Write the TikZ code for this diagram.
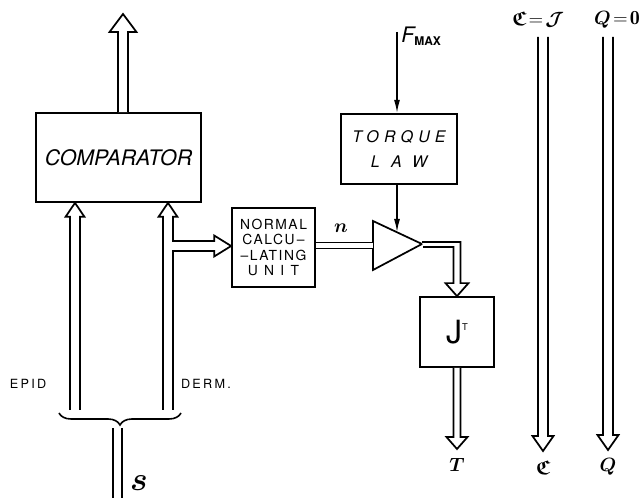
\documentclass[tikz,border=0pt]{standalone}
\usepackage{amsmath,amssymb,bm}
\usepackage{fontspec}
\setsansfont{TeX Gyre Heros}
\usetikzlibrary{calc,arrows.meta,decorations.pathreplacing}

\def\shaftw{3.75pt}
\def\headw{7.9pt}
\def\headlen{10.5pt}

\tikzset{
  box/.style={draw,line width=1.3pt,inner sep=0pt,align=center},
  hollow/.style={draw,line width=1.3pt,fill=white,line join=miter},
  fat size/.code n args={3}{\def\shaftw{#1}\def\headw{#2}\def\headlen{#3}},
  fat/.style={hollow,to path={let \p1=($(\tikztotarget)!\headlen!(\tikztostart)$) in
      ($(\tikztostart)!\shaftw!90:(\tikztotarget)$) -- ($(\p1)!\shaftw!90:(\tikztotarget)$)
      -- ($(\p1)!\headw!90:(\tikztotarget)$) -- (\tikztotarget)
      -- ($(\p1)!\headw!-90:(\tikztotarget)$) -- ($(\p1)!\shaftw!-90:(\tikztotarget)$)
      -- ($(\tikztostart)!\shaftw!-90:(\tikztotarget)$)}},
  lbl/.style={inner sep=0pt},
  sig/.style={inner sep=0pt,font=\fontsize{15}{15}\selectfont}
}

\begin{document}
\begin{tikzpicture}[x=0.75pt,y=-0.75pt]
\useasboundingbox (0,0) rectangle (640,498);

\node[box,minimum width=123.75pt,minimum height=66.75pt,
      font=\sffamily\itshape\fontsize{16}{19}\selectfont] (comp) at (118.5,157.5) {COMPARATOR};
\node[box,minimum width=62.25pt,minimum height=59.25pt,
      font=\sffamily\fontsize{10.4}{11.5}\selectfont] (norm) at (273.5,247.5)
  {\addfontfeature{LetterSpace=11}NORMAL\\\addfontfeature{LetterSpace=11}CALCU\,--\\
   \addfontfeature{LetterSpace=11}--LATING\\\addfontfeature{LetterSpace=45}UNIT};
\node[box,minimum width=87pt,minimum height=52.5pt,
      font=\sffamily\itshape\fontsize{12}{18.75}\selectfont] (torque) at (399,149)
  {\addfontfeature{LetterSpace=32}TORQUE\\\addfontfeature{LetterSpace=70}LAW};
\node[box,minimum width=55.5pt,minimum height=52.5pt] (jt) at (457,332)
  {{\sffamily\fontsize{24}{24}\selectfont J}\raisebox{2.2ex}{\sffamily\fontsize{7}{7}\selectfont T}};

% amplifier
\coordinate (amp-a) at (373,221);
\coordinate (amp-b) at (373,270);
\coordinate (amp-out) at (422,244);
\coordinate (amp-in) at (373,245.5);
\coordinate (amp-top) at ($(amp-a)!0.49!(amp-out)$);
\draw[line width=1.3pt,line join=miter] (amp-a) -- (amp-out) -- (amp-b) -- cycle;

% signal lines
\coordinate (out) at (123,14);
\coordinate (out-s) at (out |- comp.north);
\coordinate (epid) at (75,410);
\coordinate (epid-e) at (epid |- comp.south);
\coordinate (derm) at (168,410);
\coordinate (derm-e) at (derm |- comp.south);
\coordinate (br-s) at (172,246);
\coordinate (br-e) at (br-s -| norm.west);
\coordinate (t-end) at (457,449);
\coordinate (c-top) at (543,37);
\coordinate (c-end) at (543,451);
\coordinate (q-top) at (608,37);
\coordinate (q-end) at (608,450);
\coordinate (f-top) at (397,32);
\coordinate (s-top) at (117.5,428);
\coordinate (s-end) at (117.5,500);

\draw[fat,fat size={3.75pt}{10.1pt}{13.5pt}] (out-s) to (out);
\draw[fat,fat size={3.75pt}{7.1pt}{10.5pt}] (epid) to (epid-e);
\draw[fat,fat size={3.75pt}{7.1pt}{10.5pt}] (derm) to (derm-e);
\draw[fat,fat size={3.75pt}{7.9pt}{12.75pt}] (br-s) to (br-e);
\draw[fat,fat size={2.6pt}{7.9pt}{9pt}] (jt.south) to (t-end);
\draw[fat,fat size={3.75pt}{7.9pt}{11.25pt}] (c-top) to (c-end);
\draw[fat,fat size={3.75pt}{7.9pt}{11.25pt}] (q-top) to (q-end);
\draw[hollow] ($(amp-out)+(0,-2)$) -| ($(jt.north)+(3.5,-13)$) -- ++(8,0) -- (jt.north)
  -- ++(-11.5,-13) -- ++(8,0) |- ($(amp-out)+(1,3)$);
\draw[line width=1.2pt,double,double distance=3.3pt] (amp-in -| norm.east) -- (amp-in);
\draw[line width=1.1pt,-{Latex[length=10pt,width=4.5pt]}] (f-top) -- (f-top |- torque.north);
\draw[line width=1.1pt,-{Latex[length=10pt,width=4.5pt]}] (torque.south -| amp-top) -- (amp-top);
\draw[line width=1.2pt,decorate,decoration={brace,mirror,amplitude=9pt}] (59,413) -- (181,413);
\draw[line width=1.2pt,double,double distance=5.5pt] (s-top) -- (s-end);

% labels
\node[lbl,font=\sffamily\fontsize{9.5}{11}\selectfont] (l-epid) at (28,384) {\addfontfeature{LetterSpace=18}EPID};
\node[lbl,font=\sffamily\fontsize{9.5}{11}\selectfont] (l-derm) at (206,384) {\addfontfeature{LetterSpace=18}DERM.};
\node[lbl,font=\fontsize{15}{15}\selectfont] (l-n) at (341,228) {$\bm{n}$};
\node[lbl,anchor=west] (l-f) at (401,36)
  {{\sffamily\itshape\fontsize{16}{16}\selectfont F}\raisebox{-0.5ex}{\sffamily\bfseries\fontsize{9}{9}\selectfont MAX}};
\node[sig] (l-cj) at (538,20) {$\bm{\mathfrak{C}}\!=\!\bm{\mathcal{J}}$};
\node[sig] (l-q0) at (617,20) {$\bm{Q}\!=\!\mathbf{0}$};
\node[sig] (l-t) at (457,465) {$\bm{T}$};
\node[sig] (l-c) at (543,468) {$\bm{\mathfrak{C}}$};
\node[sig] (l-q) at (608,467) {$\bm{Q}$};
\node[lbl,font=\fontsize{26}{26}\selectfont] (l-s) at (139,483) {$\bm{s}$};
\end{tikzpicture}
\end{document}
